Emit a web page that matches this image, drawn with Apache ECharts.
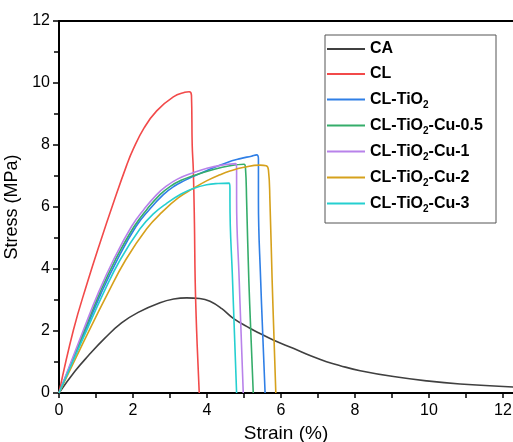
<!DOCTYPE html>
<html>
<head>
<meta charset="utf-8">
<script src="https://cdn.jsdelivr.net/npm/echarts@6/dist/echarts.min.js"></script>
<style>
  html, body { margin: 0; padding: 0; background: #fff; }
  #chart { width: 513px; height: 442px; }
</style>
</head>
<body>
<div id="chart"></div>
<script>
// strain (%), stress (MPa)
const seriesNames = ['CA', 'CL', 'CL-TiO2', 'CL-TiO2-Cu-0.5', 'CL-TiO2-Cu-1', 'CL-TiO2-Cu-2', 'CL-TiO2-Cu-3'];
const seriesColors = ['#404040', '#f24a4a', '#2f7fe6', '#35ad6a', '#b882ea', '#d6a11c', '#25cfd0'];

const caCurve = [[0, 0], [0.43, 0.7], [0.79, 1.2], [1.24, 1.77], [1.69, 2.26], [2.14, 2.6], [2.73, 2.91],
  [3.1, 3.03], [3.45, 3.07], [3.8, 3.05], [4.08, 2.96], [4.4, 2.72], [4.71, 2.41], [5.16, 2.09], [5.43, 1.92],
  [5.79, 1.71], [6.33, 1.44], [6.8, 1.2], [7.23, 1.01], [7.6, 0.88], [8.14, 0.72], [9.04, 0.53], [9.94, 0.39],
  [10.84, 0.29], [12.3, 0.19]];
const clCurve = [[0, 0], [0.39, 2.03], [0.75, 3.5], [1.11, 4.85], [1.49, 6.2], [1.83, 7.35], [2.0, 7.85],
  [2.3, 8.55], [2.64, 9.1], [3.09, 9.55], [3.4, 9.7], [3.52, 9.72], [3.58, 9.6], [3.6, 8.0], [3.63, 7.2],
  [3.66, 5.5], [3.68, 3.65], [3.72, 2.0], [3.79, 0]];
const tio2Curve = [[0, 0], [0.72, 2.03], [1.14, 3.22], [1.57, 4.29], [2.08, 5.37], [2.45, 5.93], [2.82, 6.4],
  [3.1, 6.66], [3.4, 6.86], [3.63, 6.99], [4.0, 7.18], [4.53, 7.43], [4.9, 7.56], [5.2, 7.64], [5.34, 7.68],
  [5.39, 7.55], [5.39, 6.23], [5.45, 3.65], [5.57, 0]];
const cu05Curve = [[0, 0], [0.69, 2.03], [1.1, 3.22], [1.52, 4.29], [2.03, 5.37], [2.38, 5.93], [2.73, 6.4],
  [3.0, 6.66], [3.3, 6.86], [3.63, 7.01], [4.2, 7.22], [4.62, 7.33], [5.0, 7.38], [5.04, 7.25], [5.07, 6.23],
  [5.13, 3.65], [5.25, 0]];
const cu1Curve = [[0, 0], [0.66, 2.03], [1.06, 3.22], [1.47, 4.29], [1.96, 5.37], [2.3, 5.93], [2.64, 6.4],
  [2.9, 6.67], [3.2, 6.9], [3.59, 7.09], [4.0, 7.25], [4.4, 7.35], [4.78, 7.4], [4.8, 7.2], [4.8, 6.23],
  [4.87, 3.65], [4.98, 0]];
const cu2Curve = [[0, 0], [0.82, 2.03], [1.29, 3.15], [1.8, 4.29], [2.37, 5.3], [2.8, 5.85], [3.23, 6.3],
  [3.63, 6.6], [4.0, 6.85], [4.35, 7.04], [4.62, 7.16], [5.0, 7.28], [5.43, 7.35], [5.6, 7.33], [5.66, 7.2],
  [5.7, 6.23], [5.76, 3.65], [5.86, 0]];
const cu3Curve = [[0, 0], [0.75, 2.03], [1.2, 3.22], [1.65, 4.29], [2.19, 5.3], [2.55, 5.78], [2.91, 6.12],
  [3.3, 6.42], [3.63, 6.6], [3.99, 6.72], [4.3, 6.76], [4.6, 6.77], [4.62, 6.6], [4.62, 6.2], [4.69, 3.65],
  [4.8, 0]];

const curves = [caCurve, clCurve, tio2Curve, cu05Curve, cu1Curve, cu2Curve, cu3Curve];

// axis ticks
const xTickValues = [0, 1, 2, 3, 4, 5, 6, 7, 8, 9, 10, 11, 12];
const xLabelValues = [0, 2, 4, 6, 8, 10, 12];

const chart = echarts.init(document.getElementById('chart'), null, { renderer: 'canvas' });

const font = 'Liberation Sans, Arial, sans-serif';

const option = {
  animation: false,
  grid: { left: 59, right: 0, top: 21, bottom: 49, containLabel: false, outerBoundsMode: 'none' },
  legend: {
    orient: 'vertical',
    left: 325,
    top: 35,
    padding: [4, 8, 9, 2],
    icon: 'rect',
    itemWidth: 38,
    itemHeight: 2,
    itemGap: 5,
    backgroundColor: '#fff',
    borderColor: '#555',
    borderWidth: 1,
    data: seriesNames,
    formatter: (name) => name.replace('TiO2', 'TiO{sub|2}'),
    textStyle: {
      fontFamily: font,
      fontSize: 16,
      fontWeight: 'bold',
      color: '#000',
      lineHeight: 20,
      width: 118,
      rich: {
        sub: { fontFamily: font, fontSize: 10, fontWeight: 'bold', lineHeight: 9, padding: [11, 0, 0, 0] }
      }
    }
  },
  xAxis: [
    {
      type: 'value',
      min: 0,
      max: 12.27,
      name: 'Strain (%)',
      nameLocation: 'middle',
      nameGap: 31,
      nameTextStyle: { fontFamily: font, fontSize: 19, color: '#000' },
      axisLine: { lineStyle: { color: '#000', width: 2 } },
      axisTick: { customValues: xTickValues, length: 5, lineStyle: { color: '#000', width: 1.5 } },
      axisLabel: { customValues: xLabelValues, fontFamily: font, fontSize: 16, color: '#000', margin: 10 },
      splitLine: { show: false }
    },
    {
      type: 'value',
      position: 'top',
      min: 0,
      max: 12.27,
      axisLine: { show: true, lineStyle: { color: '#000', width: 2 } },
      axisTick: { show: false },
      axisLabel: { show: false },
      splitLine: { show: false }
    }
  ],
  yAxis: {
    type: 'value',
    min: 0,
    max: 12,
    interval: 2,
    name: 'Stress (MPa)',
    nameLocation: 'middle',
    nameGap: 30,
    nameTextStyle: { fontFamily: font, fontSize: 18, color: '#000' },
    axisLine: { show: true, lineStyle: { color: '#000', width: 2 } },
    axisTick: { length: 6, lineStyle: { color: '#000', width: 1.5 } },
    minorTick: { show: true, splitNumber: 2, length: 5, lineStyle: { color: '#000', width: 1.5 } },
    axisLabel: { fontFamily: font, fontSize: 16, color: '#000', margin: 9 },
    splitLine: { show: false }
  },
  series: curves.map((data, i) => ({
    name: seriesNames[i],
    type: 'line',
    data: data,
    symbol: 'none',
    smooth: 0.45,
    clip: true,
    color: seriesColors[i],
    lineStyle: { color: seriesColors[i], width: 1.6 }
  }))
};

chart.setOption(option);
</script>
</body>
</html>
